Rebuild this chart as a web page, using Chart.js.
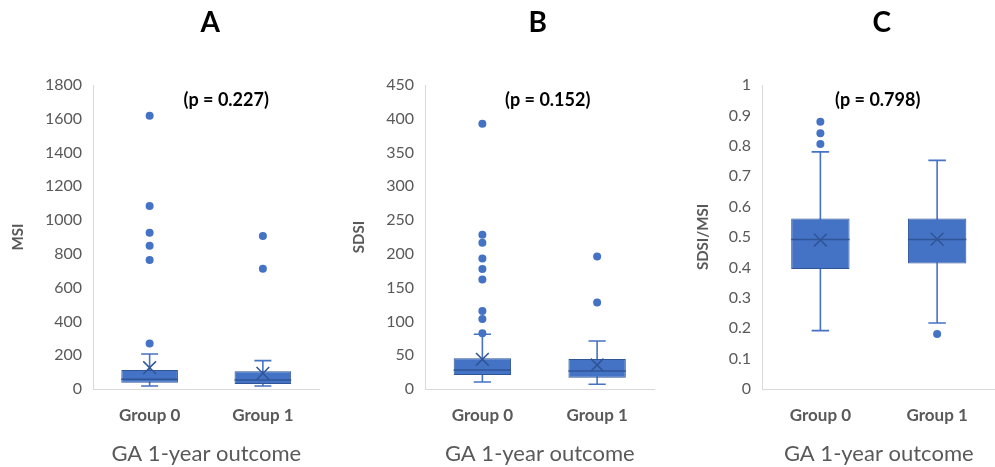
<!DOCTYPE html>
<html><head><meta charset="utf-8">
<script src="https://cdn.jsdelivr.net/npm/chart.js@4.4.0/dist/chart.umd.min.js"></script>
<style>
html,body{margin:0;padding:0;background:#fff;overflow:hidden;width:995px;height:467px;position:relative;}
canvas{position:absolute;top:0;}
</style></head><body>
<canvas id="cA" width="330" height="467" style="left:0px;width:330px;height:467px"></canvas>
<canvas id="cB" width="335" height="467" style="left:330px;width:335px;height:467px"></canvas>
<canvas id="cC" width="346" height="467" style="left:660px;width:346px;height:467px"></canvas>
<script>
// ---- data ----
const groups = ['Group 0', 'Group 1'];

// Panel A: MSI
const msiLow = [18, 18];
const msiQ1 = [37, 30];
const msiMedian = [57, 53];
const msiQ3 = [112, 105];
const msiHigh = [207, 168];
const msiMean = [126, 93];
const msiOutliers = [[1618, 1083, 925, 848, 764, 270], [906, 712]];

// Panel B: SDSI
const sdsiLow = [10.4, 7];
const sdsiQ1 = [20.7, 16.8];
const sdsiMedian = [28, 26.6];
const sdsiQ3 = [45.4, 44.4];
const sdsiHigh = [81, 71];
const sdsiMean = [44, 35.5];
const sdsiOutliers = [[392.7, 228.5, 216.6, 193, 177.6, 162, 115.5, 103.6, 82.4], [196, 128]];

// Panel C: SDSI/MSI
const ratioLow = [0.192, 0.217];
const ratioQ1 = [0.395, 0.413];
const ratioMedian = [0.492, 0.492];
const ratioQ3 = [0.561, 0.561];
const ratioHigh = [0.78, 0.752];
const ratioMean = [0.49, 0.493];
const ratioOutliers = [[0.879, 0.841, 0.806], [0.181]];

const pValues = ['(p = 0.227)', '(p = 0.152)', '(p = 0.798)'];
const panelLetters = ['A', 'B', 'C'];
const yTitles = ['MSI', 'SDSI', 'SDSI/MSI'];
const xTitle = 'GA 1-year outcome';

// ---- styling ----
const BLUE = '#4472C4';
const DARK = '#2F5597';
const GRAY = '#595959';
const AXIS = '#D9D9D9';
const FONT = 'Lato';
const CAP = 0.075;   // half cap width (x units)
const HALF = 0.25;   // half box width (x units)

function buildDatasets(low, q1, med, q3, high, mean, outliers) {
  const box = groups.map((g, i) => ({x: i, y: [q1[i], q3[i]]}));
  const whisk = [], medLine = [];
  groups.forEach((g, i) => {
    whisk.push({x: i, y: low[i]}, {x: i, y: high[i]}, {x: i, y: null},
      {x: i - CAP, y: high[i]}, {x: i + CAP, y: high[i]}, {x: i, y: null},
      {x: i - CAP, y: low[i]}, {x: i + CAP, y: low[i]}, {x: i, y: null});
    medLine.push({x: i - HALF, y: med[i]}, {x: i + HALF, y: med[i]}, {x: i, y: null});
  });
  const meanPts = groups.map((g, i) => ({x: i, y: mean[i]}));
  const outPts = [];
  outliers.forEach((arr, i) => arr.forEach(v => outPts.push({x: i, y: v})));
  return [
    {type: 'scatter', data: outPts, pointRadius: 4, pointBackgroundColor: BLUE, pointBorderWidth: 0, order: 0},
    {type: 'scatter', data: meanPts, pointStyle: 'crossRot', pointRadius: 9, pointBorderColor: DARK, pointBorderWidth: 1.5, pointBackgroundColor: 'transparent', order: 0},
    {type: 'line', data: medLine, borderColor: DARK, borderWidth: 1.5, pointRadius: 0, spanGaps: false, order: 1},
    {type: 'bar', data: box, backgroundColor: BLUE, borderColor: DARK, borderWidth: 1, borderSkipped: false, barPercentage: 0.5, categoryPercentage: 1, order: 2},
    {type: 'line', data: whisk, borderColor: BLUE, borderWidth: 1.6, pointRadius: 0, spanGaps: false, order: 3}
  ];
}

const textPlugin = {
  id: 'panelText',
  afterDraw(chart, args, opts) {
    const {ctx, chartArea} = chart;
    const cx = (chartArea.left + chartArea.right) / 2;
    ctx.save();
    ctx.fillStyle = '#000';
    ctx.textAlign = 'center';
    ctx.textBaseline = 'middle';
    ctx.font = 'bold 28px ' + FONT;
    ctx.fillText(opts.letter, cx + opts.letterDx, 23);
    ctx.font = 'bold 18px ' + FONT;
    ctx.fillText(opts.pText, cx + opts.pDx, 100);
    ctx.restore();
  }
};

function makeChart(id, idx, datasets, yMax, yStep, yWidth, yTitlePad, padRight, letterDx, pDx) {
  return new Chart(document.getElementById(id), {
    type: 'bar',
    data: {datasets},
    plugins: [textPlugin],
    options: {
      responsive: false,
      animation: false,
      events: [],
      layout: {padding: {top: 85, right: padRight, bottom: 0, left: 0}},
      plugins: {
        legend: {display: false},
        tooltip: {enabled: false},
        panelText: {letter: panelLetters[idx], pText: pValues[idx], letterDx, pDx}
      },
      scales: {
        x: {
          type: 'linear', min: -0.5, max: 1.5, offset: false,
          afterBuildTicks: s => { s.ticks = groups.map((g, i) => ({value: i})); },
          afterFit: s => { s.height = 78; },
          grid: {display: false, drawTicks: false, offset: false},
          border: {display: true, color: AXIS, width: 1},
          ticks: {
            callback: v => groups[v] !== undefined ? groups[v] : '',
            color: GRAY, font: {family: FONT, size: 17, weight: 'bold'}, padding: 16, maxRotation: 0, autoSkip: false
          },
          title: {display: true, text: xTitle, color: GRAY, font: {family: FONT, size: 22, lineHeight: 1}, padding: {top: 0, bottom: 2}}
        },
        y: {
          min: 0, max: yMax,
          afterFit: s => { s.width = yWidth; },
          grid: {display: false, drawTicks: false},
          border: {display: true, color: AXIS, width: 1},
          ticks: {stepSize: yStep, color: GRAY, font: {family: FONT, size: 16}, padding: 11,
            callback: v => String(Math.round(v * 1000) / 1000)},
          title: {display: true, text: yTitles[idx], color: GRAY, font: {family: FONT, size: 15, weight: 'bold'}, padding: {top: yTitlePad, bottom: 0}}
        }
      }
    }
  });
}

makeChart('cA', 0, buildDatasets(msiLow, msiQ1, msiMedian, msiQ3, msiHigh, msiMean, msiOutliers), 1800, 200, 93, 9, 9, 4, 20);
makeChart('cB', 1, buildDatasets(sdsiLow, sdsiQ1, sdsiMedian, sdsiQ3, sdsiHigh, sdsiMean, sdsiOutliers), 450, 50, 95, 20, 0, -2, 8);
makeChart('cC', 2, buildDatasets(ratioLow, ratioQ1, ratioMedian, ratioQ3, ratioHigh, ratioMean, ratioOutliers), 1, 0.1, 102, 34, 0, 3, -1);
</script>
</body></html>
